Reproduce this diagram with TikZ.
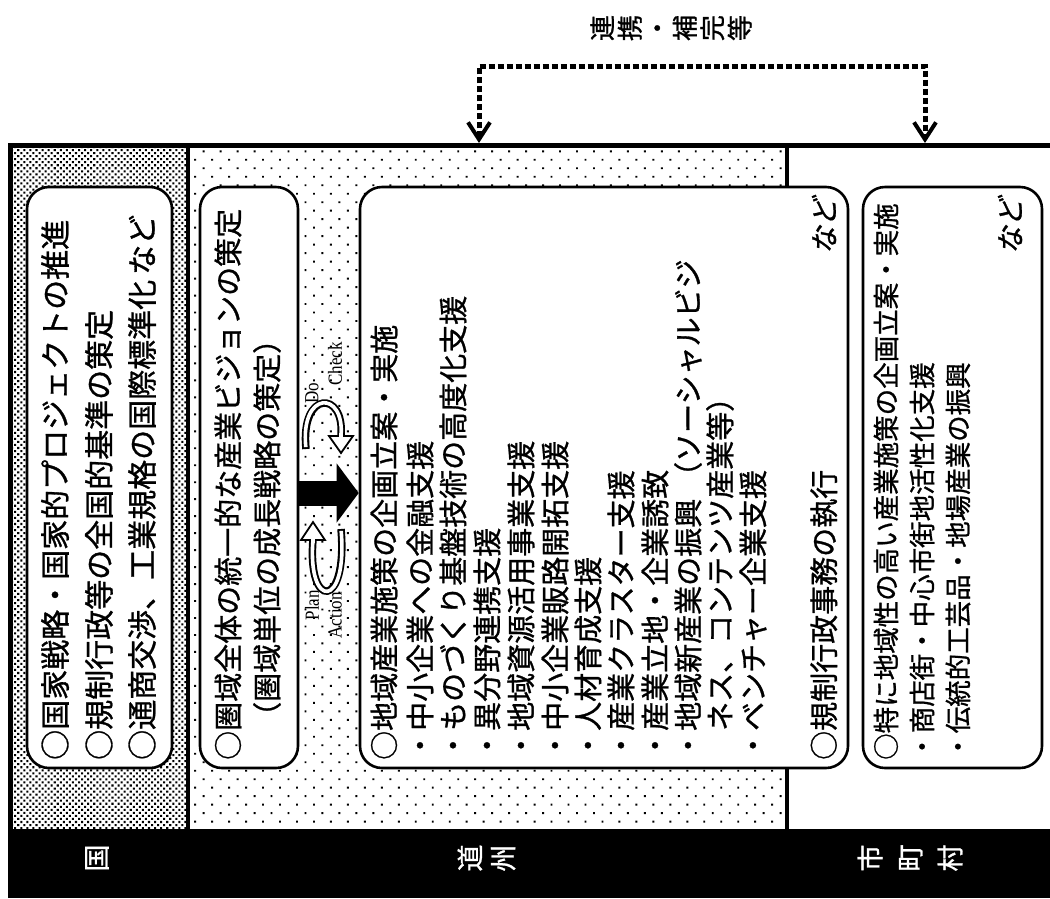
\documentclass[tikz,border=0pt]{standalone}
\usepackage{fontspec}
\newfontfamily\jp[FakeBold=1]{Noto Sans CJK JP}
\newfontfamily\jpsl[FakeSlant=0.22,FakeBold=1]{Noto Sans CJK JP}
\newfontfamily\lat{Liberation Serif}
\usetikzlibrary{arrows.meta,patterns,patterns.meta}
\begin{document}
\begin{tikzpicture}[x=1pt, y=-1pt,
  box/.style={draw, line width=2.6pt, rounded corners=22pt, fill=white, inner sep=0pt},
  ln/.style={rotate=90, anchor=west, inner sep=0pt, font=\jp\fontsize{29}{29}\selectfont},
  lna/.style={ln, font=\jp\fontsize{30}{30}\selectfont},
  lnd/.style={ln, font=\jp\fontsize{26.5}{26.5}\selectfont},
  nado/.style={rotate=90, anchor=east, inner sep=0pt, font=\jpsl\fontsize{28}{28}\selectfont},
  pdca/.style={rotate=90, inner sep=0pt, xscale=0.85, font=\lat\fontsize{20}{20}\selectfont},
  lab/.style={rotate=90, inner sep=0pt, text=white, align=center},
  rule/.style={line width=4pt},
  link/.style={line width=5pt, dash pattern=on 6pt off 3pt, line join=miter},
  hollow/.style={line width=7.5pt},
  hollowin/.style={line width=3.6pt, white},
  tiphead/.style={line width=1.8pt, fill=white, line join=miter},
]
\useasboundingbox (0,0) rectangle (1050,898);
% column backgrounds
\fill[pattern={Dots[distance=4.3pt, angle=45, radius=1.45pt]}, pattern color=black] (10,145) rectangle (188,830);
\fill[pattern={Dots[distance=12pt, angle=45, radius=1.35pt]}, pattern color=black] (188,145) rectangle (787,830);
% frame
\fill (8,829) rectangle (1050,898);
\draw[line width=5pt] (10,898) -- (10,145) -- (1050,145);
\draw[rule] (188,145) -- (188,830);
\draw[rule] (787,145) -- (787,830);

% boxes
\node[box, minimum width=145pt, minimum height=581pt] (A) at (99.5,477.5) {};
\node[box, minimum width=98pt, minimum height=581pt] (B) at (249,477.5) {};
\node[box, minimum width=488pt, minimum height=581pt] (C) at (604,477.5) {};
\node[box, minimum width=179pt, minimum height=581pt] (D) at (952.5,477.5) {};

% box A text
\node[lna] (a1) at (55,760) {○国家戦略・国家的プロジェクトの推進};
\node[lna] (a2) at (99,760) {○規制行政等の全国的基準の策定};
\node[lna] (a3) at (142,760) {○通商交渉、工業規格の国際標準化\,など};

% box B text
\node[ln] (b1) at (228,760) {○圏域全体の統一的な産業ビジョンの策定};
\node[ln] (b2) at (267,731) {（圏域単位の成長戦略の策定）};

% box C text
\node[ln] (c1) at (384,760) {○地域産業施策の企画立案・実施};
\node[ln] (c2) at (420,760) {・中小企業への金融支援};
\node[ln] (c3) at (453,760) {・ものづくり基盤技術の高度化支援};
\node[ln] (c4) at (487,760) {・異分野連携支援};
\node[ln] (c5) at (521,760) {・地域資源活用事業支援};
\node[ln] (c6) at (555,760) {・中小企業販路開拓支援};
\node[ln] (c7) at (588,760) {・人材育成支援};
\node[ln] (c8) at (621,760) {・産業クラスター支援};
\node[ln] (c9) at (655,760) {・産業立地・企業誘致};
\node[ln] (c10) at (688,760) {・地域新産業の振興\hspace{8pt}（ソーシャルビジ};
\node[ln] (c11) at (720,731) {ネス、コンテンツ産業等）};
\node[ln] (c12) at (753,760) {・ベンチャー企業支援};
\node[ln] (c13) at (824,760) {○規制行政事務の執行};
\node[nado] (c14) at (824,198) {など};

% box D text
\node[lnd] (d1) at (886,760) {○特に地域性の高い産業施策の企画立案・実施};
\node[lnd] (d2) at (922,760) {・商店街・中心市街地活性化支援};
\node[lnd] (d3) at (958,760) {・伝統的工芸品・地場産業の振興};
\node[nado] (d4) at (1010,198) {など};

% big arrow B -> C
\coordinate (ba) at (0,493);
\draw[line width=25pt, -{Triangle[length=22pt, width=58pt]}] (B.east |- ba) -- (C.west |- ba);

% hollow cycle arrows
\coordinate (u1) at (306,449);
\coordinate (u2) at (341,436);
\coordinate (ut) at (341,453);
\draw[hollow] (u1) .. controls (300,390) and (345,390) .. (u2);
\draw[hollowin, shorten <=1.9pt] (u1) .. controls (300,390) and (345,390) .. (u2);
\draw[tiphead] (329,436) -- (353,436) -- (ut) -- cycle;
\draw[white, line width=3.6pt] (341,433) -- (341,438.5);

\coordinate (l1) at (341,529);
\coordinate (l2) at (313,540);
\coordinate (lt) at (313,522);
\draw[hollow] (l1) .. controls (348,610) and (307,610) .. (l2);
\draw[hollowin, shorten <=1.9pt] (l1) .. controls (348,610) and (307,610) .. (l2);
\draw[tiphead] (301,540) -- (325,540) -- (lt) -- cycle;
\draw[white, line width=3.6pt] (313,543) -- (313,537.5);

\node[pdca, anchor=west] (pd) at (312,404) {Do};
\node[pdca, anchor=west] (pc) at (335,386) {Check};
\node[pdca, anchor=east] (pp) at (312,590) {Plan};
\node[pdca, anchor=east] (pa) at (335,592) {Action};

% dashed link
\coordinate (t1) at (479,143);
\coordinate (t2) at (925,143);
\coordinate (k) at (0,66);
\draw[link, {Straight Barb[length=17pt,width=22pt,line width=4pt]}-{Straight Barb[length=17pt,width=22pt,line width=4pt]}] (t1) -- (t1 |- k) -- (t2 |- k) -- (t2);
\node[lab, text=black, font=\jp\fontsize{26}{27.5}\selectfont] (lk) at (671,28) {連\\携\\・\\補\\完\\等};

% bottom labels
\node[lab, font=\jp\fontsize{27}{27}\selectfont] (lg) at (97,858) {国};
\node[lab, font=\jp\fontsize{27}{33}\selectfont] (ld) at (486.5,858) {道\\州};
\node[lab, font=\jp\fontsize{27}{40}\selectfont] (ls) at (910,858) {市\\町\\村};
\end{tikzpicture}
\end{document}
